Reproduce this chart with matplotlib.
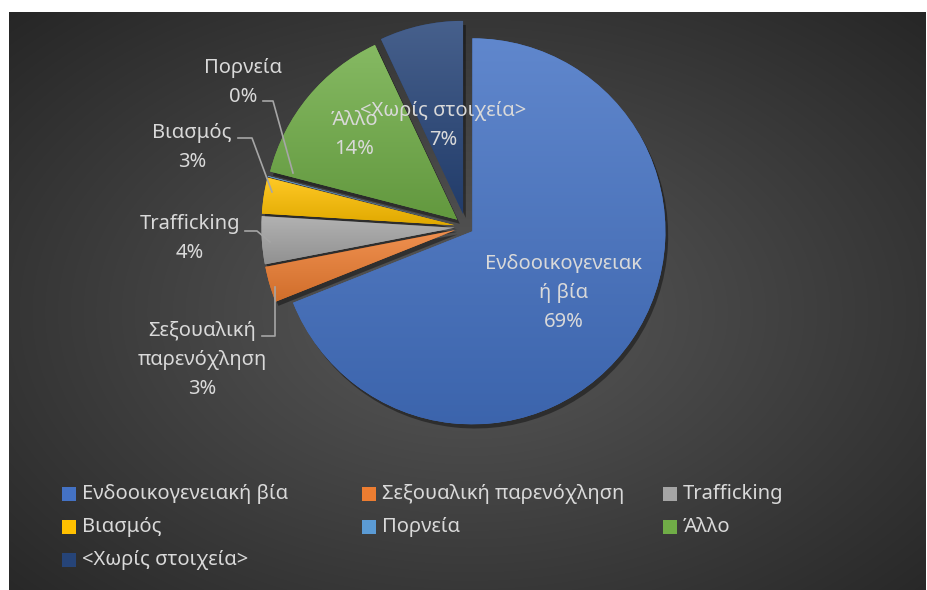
import numpy as np
import matplotlib.pyplot as plt
from matplotlib.colors import LinearSegmentedColormap, to_rgb
from matplotlib.patches import Rectangle
import matplotlib.patheffects as pe

plt.rcParams['font.family'] = ['Noto Sans', 'DejaVu Sans']

# data
categories = ['Ενδοοικογενειακή βία', 'Σεξουαλική παρενόχληση', 'Trafficking',
              'Βιασμός', 'Πορνεία', 'Άλλο', '<Χωρίς στοιχεία>']
values = [69, 3, 4, 3, 0.05, 14, 7]
colors = ['#4472C4', '#ED7D31', '#A5A5A5', '#FFC000', '#5B9BD5', '#70AD47', '#264478']

# layout (pixels of the 928x590 image)
W, H = 928, 590
CX, CY, R = 466, 227, 193
TXT = '#D9D9D9'
FS = 14.5
LS = 1.6


def px(x, y):
    return (x - CX) / R, (CY - y) / R


def mix(c, other, t):
    c = np.array(to_rgb(c))
    return tuple(c * (1 - t) + np.array(other) * t)


fig = plt.figure(figsize=(W / 100, H / 100), dpi=100)
fig.patch.set_facecolor('white')

# radial gradient background
bg = fig.add_axes([9 / W, 0, (926 - 9) / W, (H - 12) / H])
bg.axis('off')
yy, xx = np.mgrid[0:578, 0:917]
t = np.sqrt(((xx - 460) / 460) ** 2 + ((yy - 300) / 300) ** 2) / np.sqrt(2)
t = np.clip(t, 0, 1)
inner, outer = np.array([0.35, 0.35, 0.35]), np.array([0.15, 0.15, 0.15])
img = inner[None, None, :] * (1 - t[..., None]) + outer[None, None, :] * t[..., None]
bg.imshow(img, aspect='auto', extent=[0, 1, 0, 1])

ax = fig.add_axes([0, 0, 1, 1])
ax.axis('off')
ax.patch.set_alpha(0)

explode = [0.04, 0.06, 0.06, 0.06, 0.06, 0.06, 0.07]
wedges, _ = ax.pie(values, colors=colors, startangle=90, counterclock=False,
                   explode=explode, radius=1, wedgeprops=dict(linewidth=0))

for w, c in zip(wedges, colors):
    w.set_path_effects([pe.SimplePatchShadow(offset=(2, -3), shadow_rgbFace='black', alpha=0.4),
                        pe.Normal()])
    w.set_zorder(1)
    ext = w.get_path().get_extents()
    cmap = LinearSegmentedColormap.from_list('g', [mix(c, (1, 1, 1), 0.15), mix(c, (0, 0, 0), 0.12)])
    grad = np.linspace(0, 1, 256)[:, None]
    im = ax.imshow(grad, cmap=cmap, extent=[ext.x0, ext.x1, ext.y0, ext.y1],
                   origin='upper', aspect='auto', zorder=2)
    im.set_clip_path(w)

total = sum(values)
pcts = [f'{round(v / total * 100)}%' for v in values]

# inside labels: radius factor along the slice mid-angle
inside = {0: 0.57, 5: 0.69, 6: 0.47}
wrapped = {0: 'Ενδοοικογενειακ\nή βία'}
for i, rf in inside.items():
    w = wedges[i]
    ang = np.deg2rad((w.theta1 + w.theta2) / 2)
    x = w.center[0] + rf * np.cos(ang)
    y = w.center[1] + rf * np.sin(ang)
    name = wrapped.get(i, categories[i])
    ax.text(x, y, name + '\n' + pcts[i], ha='center', va='center', color=TXT,
            fontsize=FS, linespacing=LS, zorder=5)

# outside labels with leader lines
outside = {
    1: dict(xy=(202, 360), line=[(262, 336), (275, 336), (275, 287)], name='Σεξουαλική\nπαρενόχληση'),
    2: dict(xy=(190, 238), line=[(245, 231), (257, 231), (270, 242)]),
    3: dict(xy=(192, 147), line=[(238, 138), (252, 138), (272, 192)]),
    4: dict(xy=(243, 82), line=[(263, 101), (273, 101), (293, 173)]),
}
for i, o in outside.items():
    name = o.get('name', categories[i])
    ax.text(*px(*o['xy']), name + '\n' + pcts[i], ha='center', va='center',
            color=TXT, fontsize=FS, linespacing=LS, zorder=5)
    pts = np.array([px(*p) for p in o['line']])
    ax.plot(pts[:, 0], pts[:, 1], color='#A6A6A6', lw=1.2, zorder=4)

ax.set_xlim(-CX / R, (W - CX) / R)
ax.set_ylim(-(H - CY) / R, CY / R)
ax.set_aspect('equal')

# legend
col_x = [62, 362, 663]
row_y = [494, 527, 560]
for i, (name, c) in enumerate(zip(categories, colors)):
    lx, ly = col_x[i % 3], row_y[i // 3]
    fig.patches.append(Rectangle((lx / W, 1 - (ly + 7) / H), 14 / W, 14 / H,
                                 transform=fig.transFigure, facecolor=c,
                                 edgecolor='none'))
    fig.text((lx + 20) / W, 1 - ly / H, name, color=TXT, fontsize=FS,
             va='center', ha='left')

fig.savefig('out.png', dpi=100)
